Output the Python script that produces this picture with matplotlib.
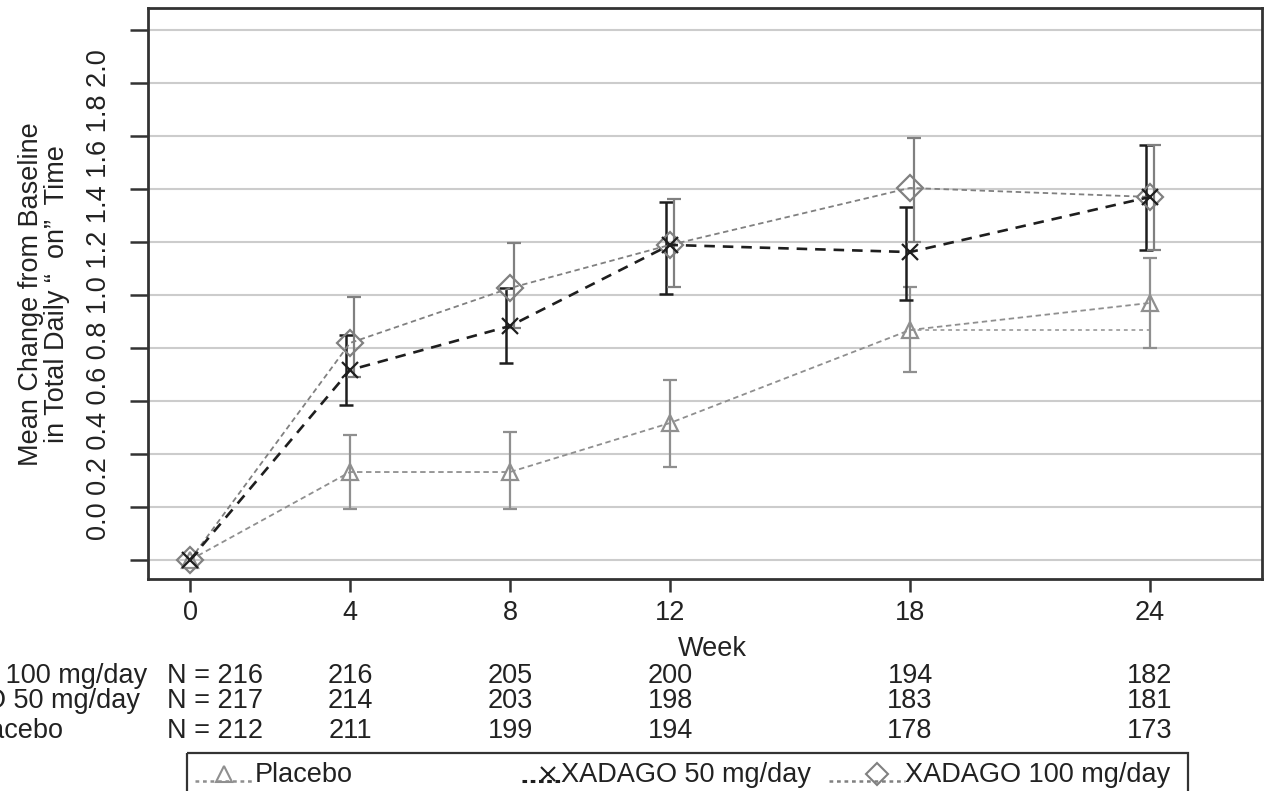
import matplotlib
matplotlib.use('Agg')
import matplotlib.pyplot as plt
import matplotlib.transforms as mtransforms
from matplotlib.lines import Line2D
from matplotlib.patches import Rectangle
import numpy as np

plt.rcParams['font.family'] = ['Liberation Sans', 'DejaVu Sans']

# ---------------- data ----------------
weeks = [0, 4, 8, 12, 18, 24]
week_labels = ['0', '4', '8', '12', '18', '24']
ytick_values = [0.0, 0.2, 0.4, 0.6, 0.8, 1.0, 1.2, 1.4, 1.6, 1.8, 2.0]
ytick_labels = ['0.0', '0.2', '0.4', '0.6', '0.8', '1.0', '1.2', '1.4', '1.6', '1.8', '2.0']

placebo_mean = [0.0, 0.332, 0.332, 0.517, 0.868, 0.970]
placebo_low = [np.nan, 0.192, 0.192, 0.351, 0.709, 0.800]
placebo_high = [np.nan, 0.472, 0.483, 0.679, 1.030, 1.140]
placebo_ref_weeks = [18, 24]
placebo_ref_vals = [0.868, 0.868]

x50_mean = [0.0, 0.717, 0.883, 1.189, 1.162, 1.370]
x50_low = [np.nan, 0.585, 0.743, 1.004, 0.981, 1.170]
x50_high = [np.nan, 0.849, 1.026, 1.351, 1.332, 1.566]

x100_mean = [0.0, 0.819, 1.026, 1.189, 1.404, 1.370]
x100_low = [np.nan, 0.691, 0.875, 1.030, 1.200, 1.170]
x100_high = [np.nan, 0.992, 1.196, 1.362, 1.592, 1.566]

row_labels = ['XADAGO 100 mg/day', 'XADAGO 50 mg/day', 'Placebo']
n_100 = [216, 216, 205, 200, 194, 182]
n_50 = [217, 214, 203, 198, 183, 181]
n_placebo = [212, 211, 199, 194, 178, 173]

legend_labels = ['Placebo', 'XADAGO 50 mg/day', 'XADAGO 100 mg/day']

# ---------------- styles ----------------
W, H = 1280, 791
FS = 19.5
C_PL = '#8f8f8f'
C_50 = '#1e1e1e'
C_100 = '#808080'
TXT = '#222222'

fig = plt.figure(figsize=(W / 100, H / 100), dpi=100)
ax = fig.add_axes([148 / W, 1 - 579 / H, (1262 - 148) / W, (579 - 8) / H])
ov = fig.add_axes([0, 0, 1, 1], zorder=-1)
ov.set_xlim(0, W)
ov.set_ylim(H, 0)
ov.axis('off')

ax.set_xlim(-1.05, 26.8)
ax.set_ylim(-0.0717, 2.083)

# grid
ax.set_yticks(ytick_values)
ax.set_yticklabels([''] * len(ytick_values))
ax.yaxis.grid(True, color='#cccccc', lw=1.5)
ax.set_axisbelow(True)
ax.set_xticks(weeks)
ax.set_xticklabels(week_labels, fontsize=FS, color=TXT)
ax.tick_params(axis='y', direction='out', length=13, width=1.8, color='#333333')
ax.tick_params(axis='x', direction='out', length=9, width=1.8, color='#333333', pad=6)
for s in ax.spines.values():
    s.set_color('#333333')
    s.set_linewidth(2)

wk = np.array(weeks, dtype=float)

def bars(offset, mean, low, high, color, lw):
    m = np.array(mean, float)
    lo = np.array(low, float)
    hi = np.array(high, float)
    ok = ~np.isnan(lo)
    ax.errorbar(wk[ok] + offset, m[ok], yerr=[m[ok] - lo[ok], hi[ok] - m[ok]],
                fmt='none', ecolor=color, elinewidth=lw, capsize=5, capthick=lw, zorder=3)

bars(0.0, placebo_mean, placebo_low, placebo_high, C_PL, 1.6)
bars(-0.09, x50_mean, x50_low, x50_high, C_50, 1.8)
bars(0.09, x100_mean, x100_low, x100_high, C_100, 1.6)

# lines
ax.plot(placebo_ref_weeks, placebo_ref_vals, color=C_PL, lw=1.1, ls=(0, (2.5, 2.5)), zorder=2)
ax.plot(weeks, placebo_mean, color=C_PL, lw=1.3, ls=(0, (3, 2)), marker='^', ms=12,
        mfc='none', mec=C_PL, mew=1.6, zorder=4)
ax.plot(weeks, x100_mean, color=C_100, lw=1.3, ls=(0, (3, 2)), marker='D', ms=13,
        mfc='none', mec=C_100, mew=1.6, zorder=4)
ax.plot(weeks, x50_mean, color=C_50, lw=1.9, ls=(0, (4, 3)), marker='x', ms=11,
        mec=C_50, mew=1.6, zorder=5)

# y tick label strip and axis label (as in the reference)
ov.text(99, 295, ' '.join(ytick_labels), rotation=90, ha='center', va='center',
        fontsize=FS, color=TXT)
ov.text(44, 294, 'Mean Change from Baseline\nin Total Daily \u201c  on\u201d  Time', rotation=90,
        ha='center', va='center', fontsize=FS, color=TXT, linespacing=1.0)

# x label
ov.text(712, 656, 'Week', ha='center', va='baseline', fontsize=FS, color=TXT)

# N table
blend = mtransforms.blended_transform_factory(ax.transData, ov.transData)
row_base = [683, 708, 738]
for lab, vals, yb in zip(row_labels, [n_100, n_50, n_placebo], row_base):
    ov.text(15, yb, lab, ha='center', va='baseline', fontsize=FS, color=TXT)
    ov.text(167, yb, 'N = %d' % vals[0], ha='left', va='baseline', fontsize=FS, color=TXT)
    for w, v in zip(weeks[1:], vals[1:]):
        ov.text(w, yb, str(v), ha='center', va='baseline', fontsize=FS, color=TXT,
                transform=blend)

# legend box
ov.add_patch(Rectangle((187, 753), 1001, 60, fill=False, ec='#333333', lw=1.6))
ly = 773
ov.add_line(Line2D([195, 253], [ly + 8, ly + 8], color=C_PL, lw=1.8, ls=(0, (1.5, 1.5))))
ov.add_line(Line2D([224], [ly + 1], marker='^', ms=11, mfc='none', mec=C_PL, mew=1.5))
ov.text(255, 782, legend_labels[0], ha='left', va='baseline', fontsize=FS, color=TXT)
ov.add_line(Line2D([522, 560], [ly + 8, ly + 8], color=C_50, lw=2.2, ls=(0, (1.5, 1.2))))
ov.add_line(Line2D([548], [ly + 1], marker='x', ms=10, mec=C_50, mew=1.5))
ov.text(561, 782, legend_labels[1], ha='left', va='baseline', fontsize=FS, color=TXT)
ov.add_line(Line2D([829, 905], [ly + 8, ly + 8], color=C_100, lw=1.8, ls=(0, (1.5, 1.5))))
ov.add_line(Line2D([877], [ly + 1], marker='D', ms=11, mfc='none', mec=C_100, mew=1.5))
ov.text(905, 782, legend_labels[2], ha='left', va='baseline', fontsize=FS, color=TXT)

fig.savefig('out.png', dpi=100)
